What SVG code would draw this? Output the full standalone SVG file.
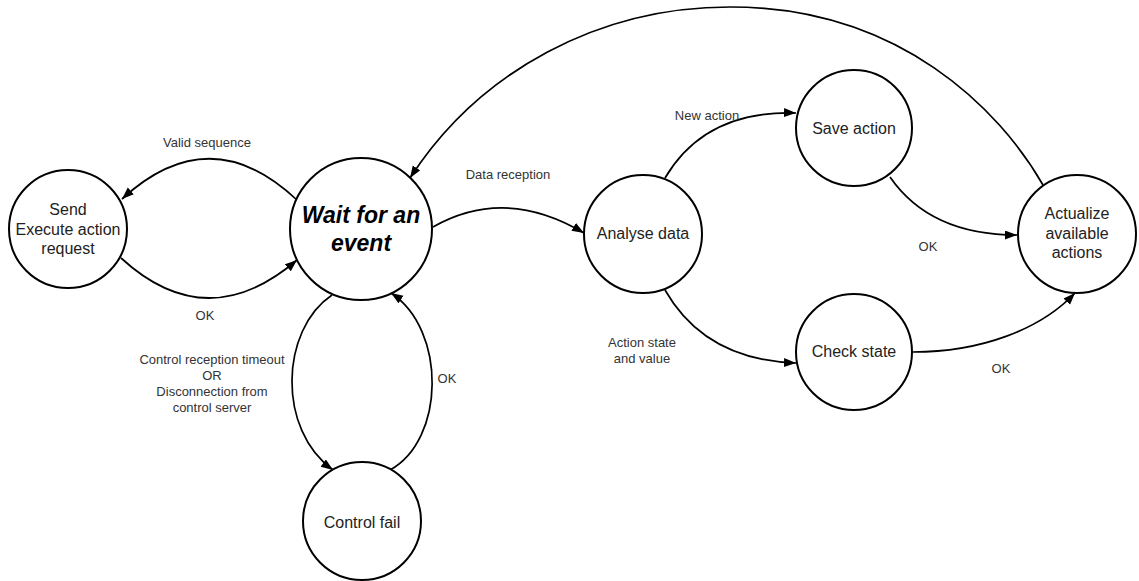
<svg xmlns="http://www.w3.org/2000/svg" width="1139" height="581" viewBox="0 0 1139 581">
  <style>
    .node circle { fill: #ffffff; stroke: #000000; stroke-width: 2; }
    .node text { font-family: "Liberation Sans", Arial, sans-serif; font-size: 16px; fill: #222222; text-anchor: middle; }
    .node text.main { font-size: 23px; font-weight: bold; font-style: italic; fill: #000000; }
    .edge path { fill: none; stroke: #000000; stroke-width: 1.7; marker-end: url(#arrow); }
    .label { font-family: "Liberation Sans", Arial, sans-serif; font-size: 13px; fill: #333333; text-anchor: middle; }
  </style>
  <defs>
    <marker id="arrow" markerUnits="userSpaceOnUse" markerWidth="13" markerHeight="10" refX="12" refY="4.5" orient="auto">
      <path d="M0,0 L12,4.5 L0,9 z" fill="#000000"/>
    </marker>
  </defs>
  <rect width="1139" height="581" fill="#ffffff"/>

  <!-- transitions -->
  <g id="connectors" class="edge">
    <path d="M297,200 Q210,118 122,199"/>
    <path d="M121,258 Q207,337 297,260"/>
    <path d="M332,295 C280,330 277,430 333,470"/>
    <path d="M390,470 C445,440 447,330 391,293"/>
    <path d="M433,227 Q505,186 584,233"/>
    <path d="M665,178 Q705,110 796,113"/>
    <path d="M665,290 Q705,360 796,363"/>
    <path d="M890,177 Q930,235 1017,235"/>
    <path d="M913,352 C980,352 1040,330 1075,293"/>
    <path d="M1043,185 C1000,110 900,7 730,7 C600,7 480,70 410,178"/>
  </g>

  <!-- transition labels -->
  <g id="labels">
    <text class="label" x="207" y="147">Valid sequence</text>
    <text class="label" x="205" y="320">OK</text>
    <text class="label" x="212" y="364">Control reception timeout</text>
    <text class="label" x="212" y="380">OR</text>
    <text class="label" x="212" y="396">Disconnection from</text>
    <text class="label" x="212" y="412">control server</text>
    <text class="label" x="447" y="383">OK</text>
    <text class="label" x="508" y="179">Data reception</text>
    <text class="label" x="707" y="120">New action</text>
    <text class="label" x="642" y="347">Action state</text>
    <text class="label" x="642" y="363">and value</text>
    <text class="label" x="928" y="251">OK</text>
    <text class="label" x="1001" y="373">OK</text>
  </g>

  <!-- states -->
  <g id="send" class="node">
    <circle cx="68" cy="229" r="59"/>
    <text x="68" y="215">Send</text>
    <text x="68" y="235">Execute action</text>
    <text x="68" y="254">request</text>
  </g>
  <g id="wait" class="node">
    <circle cx="361" cy="229" r="71"/>
    <text class="main" x="361" y="223">Wait for an</text>
    <text class="main" x="361" y="251">event</text>
  </g>
  <g id="control-fail" class="node">
    <circle cx="362" cy="521" r="59"/>
    <text x="362" y="528">Control fail</text>
  </g>
  <g id="analyse" class="node">
    <circle cx="643" cy="234" r="59"/>
    <text x="643" y="239">Analyse data</text>
  </g>
  <g id="save" class="node">
    <circle cx="854" cy="128" r="58"/>
    <text x="854" y="134">Save action</text>
  </g>
  <g id="check" class="node">
    <circle cx="854" cy="352" r="58"/>
    <text x="854" y="357">Check state</text>
  </g>
  <g id="actualize" class="node">
    <circle cx="1077" cy="234" r="59"/>
    <text x="1077" y="219">Actualize</text>
    <text x="1077" y="239">available</text>
    <text x="1077" y="258">actions</text>
  </g>
</svg>
